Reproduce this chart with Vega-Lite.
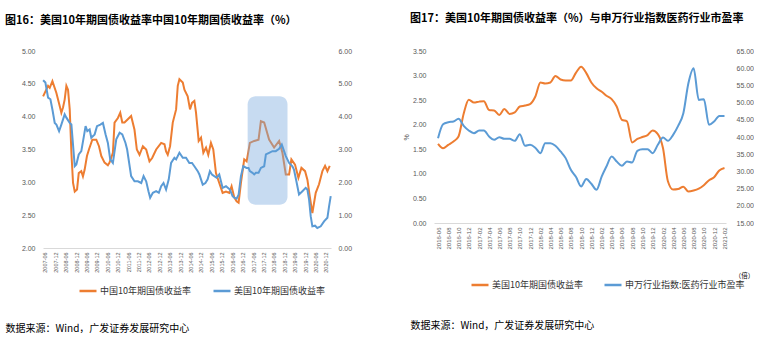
{
 "$schema": "https://vega.github.io/schema/vega-lite/v6.json",
 "padding": {"left": 5, "top": 12, "right": 0, "bottom": 0},
 "background": "white",
 "spacing": 50,
 "config": {
  "view": {"stroke": null},
  "font": "Liberation Sans",
  "axis": {"grid": false, "ticks": false, "labelOverlap": false, "labelColor": "#595959", "labelFont": "Liberation Sans", "labelFontSize": 7, "domainColor": "#d9d9d9", "titleFont": "Noto Sans CJK SC", "titleFontWeight": "normal", "titleColor": "#000000"},
  "title": {"font": "Noto Sans CJK SC", "fontSize": 11, "fontWeight": "bold", "color": "#000000", "anchor": "start", "frame": "group"},
  "legend": {"orient": "none", "direction": "horizontal", "symbolType": "stroke", "symbolSize": 289, "symbolStrokeWidth": 2.5, "labelFont": "Noto Sans CJK SC", "labelFontSize": 9, "labelColor": "#333333", "title": null, "columnPadding": 16, "labelOffset": 2, "labelLimit": 300}
 },
 "resolve": {"scale": {"color": "independent"}, "legend": {"color": "independent"}},
 "datasets": {
  "cn": [
   {"date":"2007-05-03","value":4.31,"series":"中国10年期国债收益率"},
   {"date":"2007-07-29","value":4.47,"series":"中国10年期国债收益率"},
   {"date":"2007-08-27","value":4.44,"series":"中国10年期国债收益率"},
   {"date":"2007-10-13","value":4.54,"series":"中国10年期国债收益率"},
   {"date":"2007-12-22","value":4.36,"series":"中国10年期国债收益率"},
   {"date":"2008-02-19","value":4.16,"series":"中国10年期国债收益率"},
   {"date":"2008-03-18","value":4.06,"series":"中国10年期国债收益率"},
   {"date":"2008-04-16","value":4.14,"series":"中国10年期国债收益率"},
   {"date":"2008-05-15","value":4.26,"series":"中国10年期国债收益率"},
   {"date":"2008-06-14","value":4.47,"series":"中国10年期国债收益率"},
   {"date":"2008-07-13","value":4.41,"series":"中国10年期国债收益率"},
   {"date":"2008-08-12","value":4.11,"series":"中国10年期国债收益率"},
   {"date":"2008-09-10","value":3.45,"series":"中国10年期国债收益率"},
   {"date":"2008-10-09","value":2.99,"series":"中国10年期国债收益率"},
   {"date":"2008-11-08","value":2.86,"series":"中国10年期国债收益率"},
   {"date":"2008-12-18","value":2.89,"series":"中国10年期国债收益率"},
   {"date":"2009-01-17","value":3.14,"series":"中国10年期国债收益率"},
   {"date":"2009-03-03","value":3.17,"series":"中国10年期国债收益率"},
   {"date":"2009-04-01","value":3.09,"series":"中国10年期国债收益率"},
   {"date":"2009-04-30","value":3.19,"series":"中国10年期国债收益率"},
   {"date":"2009-06-10","value":3.40,"series":"中国10年期国债收益率"},
   {"date":"2009-07-15","value":3.50,"series":"中国10年期国债收益率"},
   {"date":"2009-09-12","value":3.65,"series":"中国10年期国债收益率"},
   {"date":"2009-11-21","value":3.65,"series":"中国10年期国债收益率"},
   {"date":"2010-01-07","value":3.55,"series":"中国10年期国债收益率"},
   {"date":"2010-02-17","value":3.40,"series":"中国10年期国债收益率"},
   {"date":"2010-04-15","value":3.30,"series":"中国10年期国债收益率"},
   {"date":"2010-06-12","value":3.26,"series":"中国10年期国债收益率"},
   {"date":"2010-07-11","value":3.30,"series":"中国10年期国债收益率"},
   {"date":"2010-09-08","value":3.45,"series":"中国10年期国债收益率"},
   {"date":"2010-10-07","value":3.91,"series":"中国10年期国债收益率"},
   {"date":"2010-12-05","value":3.98,"series":"中国10年期国债收益率"},
   {"date":"2011-01-15","value":4.06,"series":"中国10年期国债收益率"},
   {"date":"2011-02-20","value":3.91,"series":"中国10年期国债收益率"},
   {"date":"2011-03-31","value":3.91,"series":"中国10年期国债收益率"},
   {"date":"2011-05-28","value":3.96,"series":"中国10年期国债收益率"},
   {"date":"2011-07-25","value":4.01,"series":"中国10年期国债收益率"},
   {"date":"2011-09-22","value":3.80,"series":"中国10年期国债收益率"},
   {"date":"2011-11-02","value":3.50,"series":"中国10年期国债收益率"},
   {"date":"2011-12-19","value":3.42,"series":"中国10年期国债收益率"},
   {"date":"2012-02-16","value":3.55,"series":"中国10年期国债收益率"},
   {"date":"2012-04-14","value":3.50,"series":"中国10年期国债收益率"},
   {"date":"2012-06-11","value":3.32,"series":"中国10年期国债收益率"},
   {"date":"2012-07-28","value":3.37,"series":"中国10年期国债收益率"},
   {"date":"2012-10-06","value":3.50,"series":"中国10年期国债收益率"},
   {"date":"2013-01-02","value":3.60,"series":"中国10年期国债收益率"},
   {"date":"2013-03-01","value":3.58,"series":"中国10年期国债收益率"},
   {"date":"2013-03-29","value":3.47,"series":"中国10年期国债收益率"},
   {"date":"2013-04-27","value":3.42,"series":"中国10年期国债收益率"},
   {"date":"2013-06-07","value":3.55,"series":"中国10年期国债收益率"},
   {"date":"2013-07-24","value":3.91,"series":"中国10年期国债收益率"},
   {"date":"2013-09-21","value":4.11,"series":"中国10年期国债收益率"},
   {"date":"2013-10-20","value":4.47,"series":"中国10年期国债收益率"},
   {"date":"2013-11-18","value":4.57,"series":"中国10年期国债收益率"},
   {"date":"2014-01-16","value":4.52,"series":"中国10年期国债收益率"},
   {"date":"2014-02-14","value":4.41,"series":"中国10年期国债收益率"},
   {"date":"2014-04-12","value":4.31,"series":"中国10年期国债收益率"},
   {"date":"2014-05-23","value":4.11,"series":"中国10年期国债收益率"},
   {"date":"2014-06-27","value":4.21,"series":"中国10年期国债收益率"},
   {"date":"2014-08-07","value":4.24,"series":"中国10年期国债收益率"},
   {"date":"2014-09-05","value":4.06,"series":"中国10年期国债收益率"},
   {"date":"2014-10-22","value":3.63,"series":"中国10年期国债收益率"},
   {"date":"2014-12-02","value":3.68,"series":"中国10年期国债收益率"},
   {"date":"2015-01-12","value":3.45,"series":"中国10年期国债收益率"},
   {"date":"2015-02-28","value":3.53,"series":"中国10年期国债收益率"},
   {"date":"2015-04-08","value":3.42,"series":"中国10年期国债收益率"},
   {"date":"2015-05-25","value":3.60,"series":"中国10年期国债收益率"},
   {"date":"2015-07-05","value":3.50,"series":"中国10年期国债收益率"},
   {"date":"2015-08-21","value":3.14,"series":"中国10年期国债收益率"},
   {"date":"2015-10-18","value":2.99,"series":"中国10年期国债收益率"},
   {"date":"2015-12-16","value":2.84,"series":"中国10年期国债收益率"},
   {"date":"2016-02-13","value":2.86,"series":"中国10年期国债收益率"},
   {"date":"2016-04-11","value":2.84,"series":"中国10年期国债收益率"},
   {"date":"2016-05-21","value":2.94,"series":"中国10年期国债收益率"},
   {"date":"2016-07-07","value":2.77,"series":"中国10年期国债收益率"},
   {"date":"2016-08-17","value":2.71,"series":"中国10年期国债收益率"},
   {"date":"2016-09-21","value":2.69,"series":"中国10年期国债收益率"},
   {"date":"2016-11-01","value":2.99,"series":"中国10年期国债收益率"},
   {"date":"2016-12-29","value":3.35,"series":"中国10年期国债收益率"},
   {"date":"2017-02-09","value":3.32,"series":"中国10年期国债收益率"},
   {"date":"2017-04-07","value":3.60,"series":"中国10年期国债收益率"},
   {"date":"2017-06-22","value":3.63,"series":"中国10年期国债收益率"},
   {"date":"2017-09-06","value":3.65,"series":"中国10年期国债收益率"},
   {"date":"2017-10-17","value":3.93,"series":"中国10年期国债收益率"},
   {"date":"2017-12-14","value":3.91,"series":"中国10年期国债收益率"},
   {"date":"2018-03-10","value":3.65,"series":"中国10年期国债收益率"},
   {"date":"2018-06-06","value":3.53,"series":"中国10年期国债收益率"},
   {"date":"2018-09-02","value":3.63,"series":"中国10年期国债收益率"},
   {"date":"2018-10-30","value":3.45,"series":"中国10年期国债收益率"},
   {"date":"2018-12-28","value":3.12,"series":"中国10年期国债收益率"},
   {"date":"2019-02-24","value":3.12,"series":"中国10年期国债收益率"},
   {"date":"2019-04-05","value":3.35,"series":"中国10年期国债收益率"},
   {"date":"2019-06-08","value":3.27,"series":"中国10年期国债收益率"},
   {"date":"2019-08-06","value":3.07,"series":"中国10年期国债收益率"},
   {"date":"2019-09-28","value":3.22,"series":"中国10年期国债收益率"},
   {"date":"2019-12-01","value":3.17,"series":"中国10年期国债收益率"},
   {"date":"2020-01-11","value":3.04,"series":"中国10年期国债收益率"},
   {"date":"2020-02-21","value":2.79,"series":"中国10年期国债收益率"},
   {"date":"2020-04-07","value":2.53,"series":"中国10年期国债收益率"},
   {"date":"2020-06-05","value":2.84,"series":"中国10年期国债收益率"},
   {"date":"2020-08-02","value":2.97,"series":"中国10年期国债收益率"},
   {"date":"2020-09-30","value":3.17,"series":"中国10年期国债收益率"},
   {"date":"2020-11-16","value":3.25,"series":"中国10年期国债收益率"},
   {"date":"2020-12-27","value":3.17,"series":"中国10年期国债收益率"},
   {"date":"2021-02-06","value":3.25,"series":"中国10年期国债收益率"}
  ],
  "us": [
   {"date":"2007-05-03","value":5.11,"series":"美国10年期国债收益率"},
   {"date":"2007-06-12","value":5.04,"series":"美国10年期国债收益率"},
   {"date":"2007-07-29","value":4.58,"series":"美国10年期国债收益率"},
   {"date":"2007-09-08","value":4.53,"series":"美国10年期国债收益率"},
   {"date":"2007-10-13","value":4.22,"series":"美国10年期国债收益率"},
   {"date":"2007-11-23","value":3.81,"series":"美国10年期国债收益率"},
   {"date":"2007-12-22","value":3.76,"series":"美国10年期国债收益率"},
   {"date":"2008-02-07","value":3.56,"series":"美国10年期国债收益率"},
   {"date":"2008-03-18","value":3.76,"series":"美国10年期国债收益率"},
   {"date":"2008-05-15","value":4.07,"series":"美国10年期国债收益率"},
   {"date":"2008-06-14","value":3.97,"series":"美国10年期国债收益率"},
   {"date":"2008-08-12","value":3.81,"series":"美国10年期国债收益率"},
   {"date":"2008-09-10","value":3.76,"series":"美国10年期国债收益率"},
   {"date":"2008-11-08","value":2.49,"series":"美国10年期国债收益率"},
   {"date":"2008-12-06","value":2.54,"series":"美国10年期国债收益率"},
   {"date":"2009-01-17","value":2.85,"series":"美国10年期国债收益率"},
   {"date":"2009-03-03","value":2.95,"series":"美国10年期国债收益率"},
   {"date":"2009-04-13","value":3.36,"series":"美国10年期国债收益率"},
   {"date":"2009-05-17","value":3.71,"series":"美国10年期国债收益率"},
   {"date":"2009-06-16","value":3.56,"series":"美国10年期国债收益率"},
   {"date":"2009-07-27","value":3.61,"series":"美国10年期国债收益率"},
   {"date":"2009-08-25","value":3.36,"series":"美国10年期国债收益率"},
   {"date":"2009-10-23","value":3.46,"series":"美国10年期国债收益率"},
   {"date":"2009-12-03","value":3.71,"series":"美国10年期国债收益率"},
   {"date":"2010-01-31","value":3.76,"series":"美国10年期国债收益率"},
   {"date":"2010-03-17","value":3.81,"series":"美国10年期国债收益率"},
   {"date":"2010-05-03","value":3.46,"series":"美国10年期国债收益率"},
   {"date":"2010-06-12","value":3.20,"series":"美国10年期国债收益率"},
   {"date":"2010-07-23","value":2.70,"series":"美国10年期国债收益率"},
   {"date":"2010-09-08","value":2.59,"series":"美国10年期国债收益率"},
   {"date":"2010-11-06","value":3.31,"series":"美国10年期国债收益率"},
   {"date":"2011-01-04","value":3.51,"series":"美国10年期国债收益率"},
   {"date":"2011-02-20","value":3.46,"series":"美国10年期国债收益率"},
   {"date":"2011-04-17","value":3.20,"series":"美国10年期国债收益率"},
   {"date":"2011-05-16","value":3.00,"series":"美国10年期国债收益率"},
   {"date":"2011-07-25","value":2.19,"series":"美国10年期国债收益率"},
   {"date":"2011-09-22","value":2.03,"series":"美国10年期国债收益率"},
   {"date":"2011-11-20","value":2.03,"series":"美国10年期国债收益率"},
   {"date":"2012-01-18","value":1.98,"series":"美国10年期国债收益率"},
   {"date":"2012-02-28","value":2.19,"series":"美国10年期国债收益率"},
   {"date":"2012-04-14","value":2.03,"series":"美国10年期国债收益率"},
   {"date":"2012-05-24","value":1.73,"series":"美国10年期国债收益率"},
   {"date":"2012-06-23","value":1.53,"series":"美国10年期国债收益率"},
   {"date":"2012-08-09","value":1.68,"series":"美国10年期国债收益率"},
   {"date":"2012-10-06","value":1.73,"series":"美国10年期国债收益率"},
   {"date":"2012-11-22","value":1.68,"series":"美国10年期国债收益率"},
   {"date":"2013-01-02","value":1.88,"series":"美国10年期国债收益率"},
   {"date":"2013-02-12","value":1.98,"series":"美国10年期国债收益率"},
   {"date":"2013-03-29","value":1.78,"series":"美国10年期国债收益率"},
   {"date":"2013-05-15","value":2.09,"series":"美国10年期国债收益率"},
   {"date":"2013-06-25","value":2.59,"series":"美国10年期国债收益率"},
   {"date":"2013-08-22","value":2.75,"series":"美国10年期国债收益率"},
   {"date":"2013-09-21","value":2.70,"series":"美国10年期国债收益率"},
   {"date":"2013-11-18","value":2.90,"series":"美国10年期国债收益率"},
   {"date":"2014-01-16","value":2.75,"series":"美国10年期国债收益率"},
   {"date":"2014-03-14","value":2.75,"series":"美国10年期国债收益率"},
   {"date":"2014-05-11","value":2.59,"series":"美国10年期国债收益率"},
   {"date":"2014-06-27","value":2.59,"series":"美国10年期国债收益率"},
   {"date":"2014-08-07","value":2.49,"series":"美国10年期国债收益率"},
   {"date":"2014-10-05","value":2.34,"series":"美国10年期国债收益率"},
   {"date":"2014-11-03","value":2.24,"series":"美国10年期国债收益率"},
   {"date":"2015-01-01","value":1.93,"series":"美国10年期国债收益率"},
   {"date":"2015-02-17","value":1.98,"series":"美国10年期国债收益率"},
   {"date":"2015-03-28","value":2.09,"series":"美国10年期国债收益率"},
   {"date":"2015-05-07","value":2.34,"series":"美国10年期国债收益率"},
   {"date":"2015-06-12","value":2.24,"series":"美国10年期国债收益率"},
   {"date":"2015-07-22","value":2.19,"series":"美国10年期国债收益率"},
   {"date":"2015-09-02","value":2.14,"series":"美国10年期国债收益率"},
   {"date":"2015-10-18","value":2.24,"series":"美国10年期国债收益率"},
   {"date":"2015-12-16","value":1.83,"series":"美国10年期国债收益率"},
   {"date":"2016-02-13","value":1.88,"series":"美国10年期国债收益率"},
   {"date":"2016-04-22","value":1.78,"series":"美国10年期国债收益率"},
   {"date":"2016-06-08","value":1.58,"series":"美国10年期国债收益率"},
   {"date":"2016-07-07","value":1.53,"series":"美国10年期国债收益率"},
   {"date":"2016-08-17","value":1.50,"series":"美国10年期国债收益率"},
   {"date":"2016-09-21","value":1.62,"series":"美国10年期国债收益率"},
   {"date":"2016-11-01","value":2.19,"series":"美国10年期国债收益率"},
   {"date":"2016-12-12","value":2.49,"series":"美国10年期国债收益率"},
   {"date":"2017-02-09","value":2.44,"series":"美国10年期国债收益率"},
   {"date":"2017-03-14","value":2.44,"series":"美国10年期国债收益率"},
   {"date":"2017-04-07","value":2.34,"series":"美国10年期国债收益率"},
   {"date":"2017-05-23","value":2.29,"series":"美国10年期国债收益率"},
   {"date":"2017-06-22","value":2.24,"series":"美国10年期国债收益率"},
   {"date":"2017-07-21","value":2.29,"series":"美国10年期国债收益率"},
   {"date":"2017-09-06","value":2.29,"series":"美国10年期国债收益率"},
   {"date":"2017-10-17","value":2.44,"series":"美国10年期国债收益率"},
   {"date":"2017-12-14","value":2.49,"series":"美国10年期国债收益率"},
   {"date":"2018-01-13","value":2.85,"series":"美国10年期国债收益率"},
   {"date":"2018-03-10","value":2.90,"series":"美国10年期国债收益率"},
   {"date":"2018-05-08","value":2.95,"series":"美国10年期国债收益率"},
   {"date":"2018-07-05","value":2.95,"series":"美国10年期国债收益率"},
   {"date":"2018-09-02","value":3.02,"series":"美国10年期国债收益率"},
   {"date":"2018-10-19","value":3.15,"series":"美国10年期国债收益率"},
   {"date":"2018-12-28","value":2.80,"series":"美国10年期国债收益率"},
   {"date":"2019-02-24","value":2.59,"series":"美国10年期国债收益率"},
   {"date":"2019-04-23","value":2.49,"series":"美国10年期国债收益率"},
   {"date":"2019-05-20","value":2.39,"series":"美国10年期国债收益率"},
   {"date":"2019-07-01","value":2.04,"series":"美国10年期国债收益率"},
   {"date":"2019-08-17","value":1.63,"series":"美国10年期国债收益率"},
   {"date":"2019-10-15","value":1.73,"series":"美国10年期国债收益率"},
   {"date":"2019-12-12","value":1.83,"series":"美国10年期国债收益率"},
   {"date":"2020-01-11","value":1.78,"series":"美国10年期国债收益率"},
   {"date":"2020-02-09","value":1.48,"series":"美国10年期国债收益率"},
   {"date":"2020-03-09","value":0.97,"series":"美国10年期国债收益率"},
   {"date":"2020-04-07","value":0.66,"series":"美国10年期国债收益率"},
   {"date":"2020-05-24","value":0.68,"series":"美国10年期国债收益率"},
   {"date":"2020-07-03","value":0.61,"series":"美国10年期国债收益率"},
   {"date":"2020-09-01","value":0.66,"series":"美国10年期国债收益率"},
   {"date":"2020-10-29","value":0.81,"series":"美国10年期国债收益率"},
   {"date":"2020-12-27","value":0.92,"series":"美国10年期国债收益率"},
   {"date":"2021-01-25","value":1.27,"series":"美国10年期国债收益率"},
   {"date":"2021-02-23","value":1.58,"series":"美国10年期国债收益率"}
  ],
  "box": [
   {"date":"2017-02-27","end":"2019-01-27","lo":2.66,"hi":4.31}
  ],
  "yield": [
   {"date":"2016-06-01","value":1.61},{"date":"2016-07-01","value":1.52},{"date":"2016-08-01","value":1.59},{"date":"2016-09-01","value":1.66},{"date":"2016-10-01","value":1.76},{"date":"2016-11-01","value":2.23},{"date":"2016-12-01","value":2.51},
   {"date":"2017-01-01","value":2.45},{"date":"2017-02-01","value":2.47},{"date":"2017-03-01","value":2.48},{"date":"2017-04-01","value":2.30},{"date":"2017-05-01","value":2.29},{"date":"2017-06-01","value":2.20},{"date":"2017-07-01","value":2.32},{"date":"2017-08-01","value":2.22},{"date":"2017-09-01","value":2.25},{"date":"2017-10-01","value":2.37},{"date":"2017-11-01","value":2.39},{"date":"2017-12-01","value":2.42},
   {"date":"2018-01-01","value":2.57},{"date":"2018-02-01","value":2.86},{"date":"2018-03-01","value":2.84},{"date":"2018-04-01","value":2.86},{"date":"2018-05-01","value":2.99},{"date":"2018-06-01","value":2.92},{"date":"2018-07-01","value":2.90},{"date":"2018-08-01","value":2.90},{"date":"2018-09-01","value":3.06},{"date":"2018-10-01","value":3.18},{"date":"2018-11-01","value":3.05},{"date":"2018-12-01","value":2.86},
   {"date":"2019-01-01","value":2.74},{"date":"2019-02-01","value":2.67},{"date":"2019-03-01","value":2.59},{"date":"2019-04-01","value":2.52},{"date":"2019-05-01","value":2.37},{"date":"2019-06-01","value":2.10},{"date":"2019-07-01","value":2.07},{"date":"2019-08-01","value":1.64},{"date":"2019-09-01","value":1.71},{"date":"2019-10-01","value":1.75},{"date":"2019-11-01","value":1.79},{"date":"2019-12-01","value":1.88},
   {"date":"2020-01-01","value":1.81},{"date":"2020-02-01","value":1.52},{"date":"2020-03-01","value":0.85},{"date":"2020-04-01","value":0.68},{"date":"2020-05-01","value":0.69},{"date":"2020-06-01","value":0.74},{"date":"2020-07-01","value":0.64},{"date":"2020-08-01","value":0.66},{"date":"2020-09-01","value":0.70},{"date":"2020-10-01","value":0.77},{"date":"2020-11-01","value":0.87},{"date":"2020-12-01","value":0.93},
   {"date":"2021-01-01","value":1.07},{"date":"2021-02-01","value":1.12}
  ],
  "pe": [
   {"date":"2016-06-01","value":39.66},{"date":"2016-07-01","value":43.72},{"date":"2016-08-01","value":44.30},{"date":"2016-09-01","value":44.50},{"date":"2016-10-01","value":45.27},{"date":"2016-11-01","value":43.24},{"date":"2016-12-01","value":41.89},
   {"date":"2017-01-01","value":41.11},{"date":"2017-02-01","value":41.89},{"date":"2017-03-01","value":41.89},{"date":"2017-04-01","value":40.15},{"date":"2017-05-01","value":39.18},{"date":"2017-06-01","value":39.95},{"date":"2017-07-01","value":39.47},{"date":"2017-08-01","value":39.47},{"date":"2017-09-01","value":38.89},{"date":"2017-10-01","value":40.82},{"date":"2017-11-01","value":37.44},{"date":"2017-12-01","value":37.73},
   {"date":"2018-01-01","value":36.90},{"date":"2018-02-01","value":35.31},{"date":"2018-03-01","value":38.21},{"date":"2018-04-01","value":38.21},{"date":"2018-05-01","value":37.44},{"date":"2018-06-01","value":35.79},{"date":"2018-07-01","value":33.86},{"date":"2018-08-01","value":30.47},{"date":"2018-09-01","value":28.35},{"date":"2018-10-01","value":25.64},{"date":"2018-11-01","value":27.77},{"date":"2018-12-01","value":26.41},
   {"date":"2019-01-01","value":24.67},{"date":"2019-02-01","value":28.54},{"date":"2019-03-01","value":31.44},{"date":"2019-04-01","value":34.34},{"date":"2019-05-01","value":32.89},{"date":"2019-06-01","value":31.63},{"date":"2019-07-01","value":32.89},{"date":"2019-08-01","value":32.60},{"date":"2019-09-01","value":35.99},{"date":"2019-10-01","value":36.47},{"date":"2019-11-01","value":36.47},{"date":"2019-12-01","value":35.31},
   {"date":"2020-01-01","value":37.73},{"date":"2020-02-01","value":39.85},{"date":"2020-03-01","value":38.89},{"date":"2020-04-01","value":40.63},{"date":"2020-05-01","value":43.24},{"date":"2020-06-01","value":46.91},{"date":"2020-07-01","value":55.62},{"date":"2020-08-01","value":59.97},{"date":"2020-09-01","value":50.78},{"date":"2020-10-01","value":50.98},{"date":"2020-11-01","value":43.53},{"date":"2020-12-01","value":44.50},
   {"date":"2021-01-01","value":46.14},{"date":"2021-02-01","value":46.14}
  ]
 },
 "hconcat": [
  {
   "width": 288,
   "height": 197,
   "title": {"text": "图16：美国10年期国债收益率中国10年期国债收益率（%）", "dx": -38, "offset": 21},
   "encoding": {
    "x": {"field": "date", "type": "temporal",
          "scale": {"domain": [{"year": 2007, "month": 5, "date": 1}, {"year": 2021, "month": 2, "date": 28}]},
          "axis": {"values": [
            {"year":2007,"month":6,"date":1},{"year":2007,"month":12,"date":1},{"year":2008,"month":6,"date":1},{"year":2008,"month":12,"date":1},
            {"year":2009,"month":6,"date":1},{"year":2009,"month":12,"date":1},{"year":2010,"month":6,"date":1},{"year":2010,"month":12,"date":1},
            {"year":2011,"month":6,"date":1},{"year":2011,"month":12,"date":1},{"year":2012,"month":6,"date":1},{"year":2012,"month":12,"date":1},
            {"year":2013,"month":6,"date":1},{"year":2013,"month":12,"date":1},{"year":2014,"month":6,"date":1},{"year":2014,"month":12,"date":1},
            {"year":2015,"month":6,"date":1},{"year":2015,"month":12,"date":1},{"year":2016,"month":6,"date":1},{"year":2016,"month":12,"date":1},
            {"year":2017,"month":6,"date":1},{"year":2017,"month":12,"date":1},{"year":2018,"month":6,"date":1},{"year":2018,"month":12,"date":1},
            {"year":2019,"month":6,"date":1},{"year":2019,"month":12,"date":1},{"year":2020,"month":6,"date":1},{"year":2020,"month":12,"date":1}],
            "format": "%Y-%m", "labelAngle": -90, "labelFontSize": 5.5, "labelPadding": 4, "labelOverlap": false, "labelFlush": false,
            "title": "数据来源：Wind，广发证券发展研究中心", "titleX": -38, "titleY": 80, "titleAlign": "left", "titleAngle": 0, "titleBaseline": "middle", "titleFontSize": 10}}
   },
   "layer": [
    {
     "data": {"name": "cn"},
     "mark": {"type": "line", "strokeWidth": 2},
     "encoding": {
      "y": {"field": "value", "type": "quantitative", "scale": {"domain": [2, 5]},
            "axis": {"orient": "left", "values": [2, 2.5, 3, 3.5, 4, 4.5, 5], "format": ".2f", "title": null, "domain": false, "labelPadding": 8, "labelOverlap": false}},
      "color": {"field": "series", "type": "nominal",
                "scale": {"domain": ["中国10年期国债收益率", "美国10年期国债收益率"], "range": ["#ED7D31", "#5B9BD5"]},
                "legend": {"legendX": 35, "legendY": 230, "columnPadding": 17}}
     }
    },
    {
     "data": {"name": "box"},
     "mark": {"type": "rect", "fill": "#7aaade", "opacity": 0.42, "cornerRadius": 8},
     "encoding": {
      "x2": {"field": "end"},
      "y": {"field": "hi", "type": "quantitative", "scale": {"domain": [2, 5]}, "axis": null},
      "y2": {"field": "lo"}
     }
    },
    {
     "data": {"name": "us"},
     "mark": {"type": "line", "strokeWidth": 2},
     "encoding": {
      "y": {"field": "value", "type": "quantitative", "scale": {"domain": [0, 6]},
            "axis": {"orient": "right", "values": [0, 1, 2, 3, 4, 5, 6], "format": ".2f", "title": null, "domain": false, "labelPadding": 7, "labelOverlap": false}},
      "color": {"field": "series", "type": "nominal"}
     }
    }
   ],
   "resolve": {"scale": {"y": "independent"}}
  },
  {
   "width": 292,
   "height": 172,
   "title": {"text": "图17：美国10年期国债收益率（%）与申万行业指数医药行业市盈率", "dx": -24, "offset": 23.5},
   "encoding": {
    "x": {"field": "date", "type": "temporal",
          "scale": {"domain": [{"year": 2016, "month": 5, "date": 8}, {"year": 2021, "month": 2, "date": 10}]},
          "axis": {"values": [
            {"year":2016,"month":6,"date":1},{"year":2016,"month":8,"date":1},{"year":2016,"month":10,"date":1},{"year":2016,"month":12,"date":1},
            {"year":2017,"month":2,"date":1},{"year":2017,"month":4,"date":1},{"year":2017,"month":6,"date":1},{"year":2017,"month":8,"date":1},{"year":2017,"month":10,"date":1},{"year":2017,"month":12,"date":1},
            {"year":2018,"month":2,"date":1},{"year":2018,"month":4,"date":1},{"year":2018,"month":6,"date":1},{"year":2018,"month":8,"date":1},{"year":2018,"month":10,"date":1},{"year":2018,"month":12,"date":1},
            {"year":2019,"month":2,"date":1},{"year":2019,"month":4,"date":1},{"year":2019,"month":6,"date":1},{"year":2019,"month":8,"date":1},{"year":2019,"month":10,"date":1},{"year":2019,"month":12,"date":1},
            {"year":2020,"month":2,"date":1},{"year":2020,"month":4,"date":1},{"year":2020,"month":6,"date":1},{"year":2020,"month":8,"date":1},{"year":2020,"month":10,"date":1},{"year":2020,"month":12,"date":1},
            {"year":2021,"month":2,"date":1}],
            "format": "%Y-%m", "labelAngle": -90, "labelFontSize": 6, "labelPadding": 4, "labelOverlap": false, "labelFlush": false,
            "title": "数据来源：Wind，广发证券发展研究中心", "titleX": -24, "titleY": 102, "titleAlign": "left", "titleAngle": 0, "titleBaseline": "middle", "titleFontSize": 10}}
   },
   "layer": [
    {
     "data": {"name": "yield"},
     "transform": [{"calculate": "'美国10年期国债收益率'", "as": "series"}],
     "mark": {"type": "line", "strokeWidth": 2, "interpolate": "monotone"},
     "encoding": {
      "y": {"field": "value", "type": "quantitative", "scale": {"domain": [0, 3.5]},
            "axis": {"orient": "left", "values": [0, 0.5, 1, 1.5, 2, 2.5, 3, 3.5], "format": ".2f", "title": "%", "titleFontSize": 7, "titleColor": "#595959", "titleFont": "Liberation Sans", "titlePadding": 3, "domain": false, "labelPadding": 8, "labelOverlap": false}},
      "color": {"field": "series", "type": "nominal",
                "scale": {"domain": ["美国10年期国债收益率", "申万行业指数:医药行业市盈率"], "range": ["#ED7D31", "#5B9BD5"]},
                "legend": {"legendX": 36, "legendY": 224, "columnPadding": 16}}
     }
    },
    {
     "data": {"name": "pe"},
     "transform": [{"calculate": "'申万行业指数:医药行业市盈率'", "as": "series"}],
     "mark": {"type": "line", "strokeWidth": 2, "interpolate": "monotone"},
     "encoding": {
      "y": {"field": "value", "type": "quantitative", "scale": {"domain": [15, 65]},
            "axis": {"orient": "right", "values": [15, 20, 25, 30, 35, 40, 45, 50, 55, 60, 65], "format": ".2f", "title": "（倍）", "titleX": 18, "titleY": 224, "titleAngle": 0, "titleAlign": "center", "titleBaseline": "middle", "titleFontSize": 6.5, "domain": false, "labelPadding": 10, "labelOverlap": false}},
      "color": {"field": "series", "type": "nominal"}
     }
    }
   ],
   "resolve": {"scale": {"y": "independent"}}
  }
 ]
}
